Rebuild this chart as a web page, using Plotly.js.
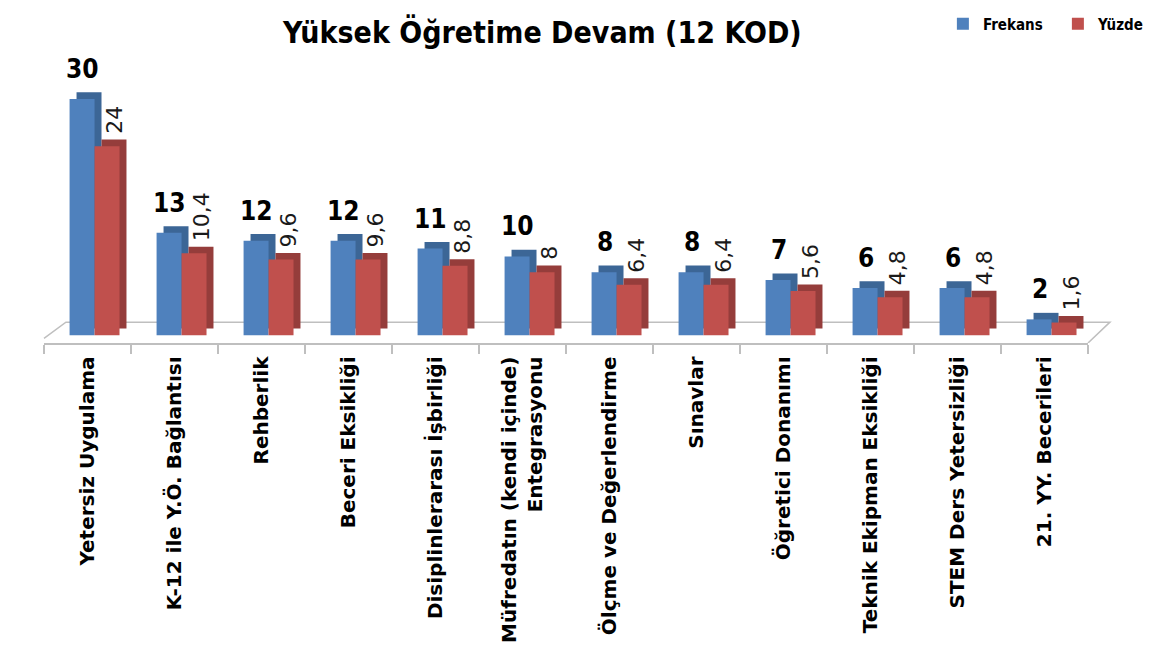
<!DOCTYPE html>
<html>
<head>
<meta charset="utf-8">
<script src="https://cdn.plot.ly/plotly-3.0.1.min.js"></script>
<style>html,body{margin:0;padding:0;background:#fff;}#chart{width:1149px;height:654px;}</style>
</head>
<body>
<div id="chart"></div>
<script>
const categories = [
  "Yetersiz Uygulama",
  "K-12 ile Y.Ö. Bağlantısı",
  "Rehberlik",
  "Beceri Eksikliği",
  "Disiplinlerarası İşbirliği",
  "Müfredatın (kendi içinde)<br>Entegrasyonu",
  "Ölçme ve Değerlendirme",
  "Sınavlar",
  "Öğretici Donanımı",
  "Teknik Ekipman Eksikliği",
  "STEM Ders Yetersizliği",
  "21. YY. Becerileri"
];
const frekans = [30, 13, 12, 12, 11, 10, 8, 8, 7, 6, 6, 2];
const yuzde = [24, 10.4, 9.6, 9.6, 8.8, 8, 6.4, 6.4, 5.6, 4.8, 4.8, 1.6];
const seriesNames = ["Frekans", "Yüzde"];

const NARROW = "DejaVu Sans Condensed, Liberation Sans Narrow, DejaVu Sans, sans-serif";
const blue = "#4f81bd", blueDark = "#3c6696";
const red = "#c0504d", redDark = "#953d3b";

const w = 0.287, dx = 0.08, dy = 0.83;
const offB = -0.206, offR = offB + w;

function shadow(vals, off, color) {
  return {type: "bar", x: categories, y: vals, base: dy, offset: off + dx, width: w,
    marker: {color: color}, showlegend: false, hoverinfo: "skip"};
}
function front(vals, off, color, name) {
  return {type: "bar", name: name, x: categories, y: vals, offset: off, width: w,
    marker: {color: color}};
}

const traces = [
  shadow(frekans, offB, blueDark),
  front(frekans, offB, blue, seriesNames[0]),
  shadow(yuzde, offR, redDark),
  front(yuzde, offR, red, seriesNames[1])
];

const annotations = [];
categories.forEach((c, i) => {
  annotations.push({x: c, y: frekans[i], xref: "x", yref: "y", text: String(frekans[i]),
    showarrow: false, xanchor: "center", yanchor: "bottom", xshift: -5, yshift: 13,
    font: {family: NARROW, size: 26, weight: "bold", color: "#000"}});
  annotations.push({x: c, y: yuzde[i], xref: "x", yref: "y", text: String(yuzde[i]).replace(".", ","),
    showarrow: false, textangle: -90, xanchor: "center", yanchor: "bottom", xshift: 27, yshift: 10,
    font: {family: "DejaVu Sans, sans-serif", size: 22, color: "#1a1a1a"}});
});

const layout = {
  width: 1149, height: 654,
  margin: {l: 44, r: 61, t: 91, b: 311, autoexpand: false},
  paper_bgcolor: "#fff", plot_bgcolor: "rgba(0,0,0,0)",
  barmode: "overlay",
  title: {text: "Yüksek Öğretime Devam (12 KOD)", x: 0.472, xanchor: "center", y: 0.951, yanchor: "middle",
    font: {family: NARROW, size: 30, weight: "bold", color: "#000"}},
  showlegend: true,
  legend: {orientation: "h", x: 0.861, xanchor: "left", y: 1.266, yanchor: "middle",
    font: {family: NARROW, size: 15, weight: "bold", color: "#000"}, itemwidth: 30,
    entrywidth: 70, entrywidthmode: "pixels", bgcolor: "rgba(0,0,0,0)"},
  xaxis: {type: "category", showline: true, linecolor: "#bfbfbf", linewidth: 1.5,
    ticks: "outside", tickson: "boundaries", ticklen: 9, tickcolor: "#bfbfbf", tickwidth: 1.5,
    tickangle: -90, showgrid: false, zeroline: false, fixedrange: true, ticklabelstandoff: 4,
    tickfont: {family: "DejaVu Sans, sans-serif", size: 20, weight: "bold", color: "#000"}},
  yaxis: {visible: false, range: [-1, 31], fixedrange: true},
  shapes: [{type: "path", xref: "paper", yref: "y", layer: "below",
    path: "M 0,-0.4 L 0.021,1.65 L 1.021,1.65 L 1,-1",
    line: {color: "#bfbfbf", width: 1.5}, fillcolor: "rgba(0,0,0,0)"}],
  annotations: annotations
};

Plotly.newPlot("chart", traces, layout, {displayModeBar: false, staticPlot: true});
</script>
</body>
</html>
